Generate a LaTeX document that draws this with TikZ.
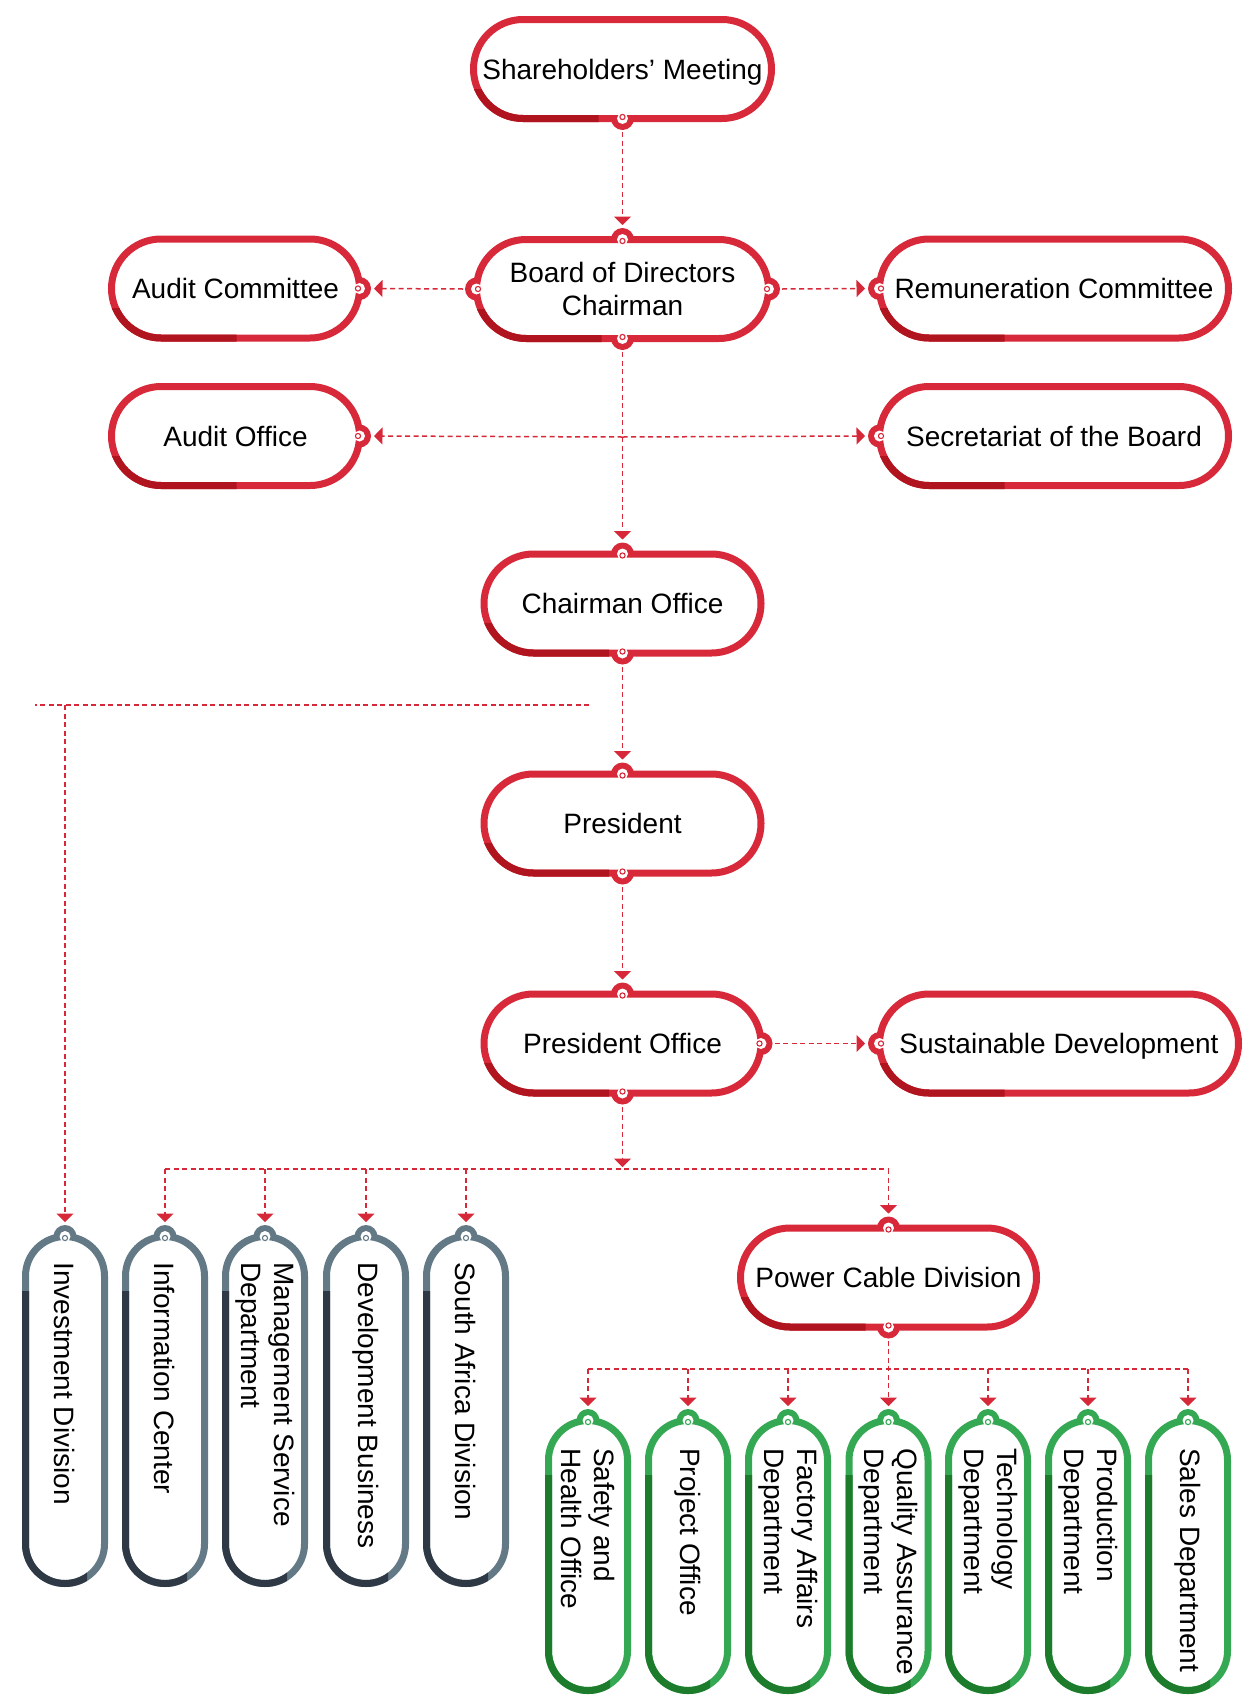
\documentclass[tikz,border=0pt]{standalone}
\usepackage{fontspec}
\setmainfont{Liberation Sans}
\usetikzlibrary{arrows.meta,calc}
\pgfdeclarelayer{background}
\pgfsetlayers{background,main}
\definecolor{rlight}{RGB}{215,41,58}
\definecolor{rdark}{RGB}{176,20,30}
\definecolor{glight}{RGB}{99,121,134}
\definecolor{gdark}{RGB}{46,57,69}
\definecolor{nlight}{RGB}{53,168,84}
\definecolor{ndark}{RGB}{29,123,44}
\definecolor{lnred}{RGB}{214,40,56}

\tikzset{
  lab/.style={font=\fontsize{28pt}{33pt}\selectfont, text=black},
  rbox/.style={draw=rlight, line width=7pt, fill=white, rounded corners=49.5pt, minimum height=99pt, inner sep=0pt, align=center, text depth=0pt, lab},
  vshape/.style={line width=7pt, fill=white, rounded corners=39.5pt, minimum width=79pt, inner sep=0pt},
  graybox/.style={vshape, draw=glight, minimum height=347pt},
  greenbox/.style={vshape, draw=nlight, minimum height=270pt},
  vtext/.style={lab, rotate=-90, anchor=west, align=left, inner sep=0pt},
  conn/.style={draw=lnred, line width=1.5pt, dash pattern=on 5pt off 3.5pt},
  arr/.style={conn, -{Triangle[width=17pt,length=8.5pt]}},
}

% bump (connection tab) on a box border
\newcommand{\bump}[3]{%
  \begin{scope}[shift={(#1)}, rotate=#2, xshift=-3.5pt]
    \begin{pgfonlayer}{background}
      \fill[#3] (0pt,0pt) circle (11.5pt);
    \end{pgfonlayer}
    \fill[white] (0pt,0pt) circle (5.5pt);
    \draw[#3, line width=1.1pt] (-1.5pt,0pt) circle (2.6pt);
  \end{scope}}

% red horizontal box: name, cx, cy, w, text
\newcommand{\mkR}[5]{%
  \node[rbox, minimum width=#4pt] (#1) at (#2,#3) {#5};
  \begin{scope}
    \clip ({#2-#4/2-8},{#3+20}) rectangle ({#2-#4/2+125},{#3+60});
    \draw[rdark, line width=7pt, rounded corners=49.5pt] ({#2-#4/2},{#3-49.5}) rectangle ({#2+#4/2},{#3+49.5});
  \end{scope}}

% vertical box: name, style, cx, cy, h, dark colour, light colour
\newcommand{\mkV}[7]{%
  \node[#2] (#1) at (#3,#4) {};
  \begin{scope}
    \clip ({#3-50},{#4-#5/2+55}) rectangle ({#3+22},{#4+#5/2+10});
    \draw[#6, line width=7pt, rounded corners=39.5pt] ({#3-39.5},{#4-#5/2}) rectangle ({#3+39.5},{#4+#5/2});
  \end{scope}
  \bump{#1.north}{90}{#7}}

\begin{document}
\begin{tikzpicture}[x=1pt,y=-1pt]
\begin{pgfonlayer}{background}
  \fill[white] (0,0) rectangle (1250,1700);
\end{pgfonlayer}
\useasboundingbox (0,0) rectangle (1250,1700);

% ---- red boxes ----
\mkR{sh}{622.5}{69}{298}{Shareholders’ Meeting}
\mkR{bd}{622.5}{289}{292}{Board of Directors\\Chairman}
\mkR{ac}{235.5}{288.5}{248}{Audit Committee}
\mkR{ao}{235.5}{436}{248}{Audit Office}
\mkR{rc}{1054}{288.5}{349}{Remuneration Committee}
\mkR{sb}{1054}{436}{349}{Secretariat of the Board}
\mkR{co}{622.5}{603.5}{277}{Chairman Office}
\mkR{pr}{622.5}{823.5}{277}{President}
\mkR{po}{622.5}{1043.5}{277}{President Office}
\mkR{sd}{1059}{1043.5}{359}{Sustainable Development}
\mkR{pc}{888.5}{1277.5}{296}{Power Cable Division}

\bump{sh.south}{-90}{rlight}
\bump{bd.north}{90}{rlight}
\bump{bd.south}{-90}{rlight}
\bump{bd.west}{180}{rlight}
\bump{bd.east}{0}{rlight}
\bump{ac.east}{0}{rlight}
\bump{ao.east}{0}{rlight}
\bump{rc.west}{180}{rlight}
\bump{sb.west}{180}{rlight}
\bump{co.north}{90}{rlight}
\bump{co.south}{-90}{rlight}
\bump{pr.north}{90}{rlight}
\bump{pr.south}{-90}{rlight}
\bump{po.north}{90}{rlight}
\bump{po.south}{-90}{rlight}
\bump{po.east}{0}{rlight}
\bump{sd.west}{180}{rlight}
\bump{pc.north}{90}{rlight}
\bump{pc.south}{-90}{rlight}

% ---- gray vertical boxes ----
\mkV{inv}{graybox}{65}{1410}{347}{gdark}{glight}
\mkV{inf}{graybox}{165}{1410}{347}{gdark}{glight}
\mkV{msd}{graybox}{265}{1410}{347}{gdark}{glight}
\mkV{dev}{graybox}{366}{1410}{347}{gdark}{glight}
\mkV{sad}{graybox}{466}{1410}{347}{gdark}{glight}
\node[vtext] (inv-t) at (65,1262) {Investment Division};
\node[vtext] (inf-t) at (165,1262) {Information Center};
\node[vtext] (msd-t) at (265,1262) {Management Service\\Department};
\node[vtext] (dev-t) at (366,1262) {Development Business};
\node[vtext] (sad-t) at (466,1262) {South Africa Division};

% ---- green vertical boxes ----
\mkV{she}{greenbox}{588}{1555.5}{270}{ndark}{nlight}
\mkV{pjo}{greenbox}{688}{1555.5}{270}{ndark}{nlight}
\mkV{fad}{greenbox}{788}{1555.5}{270}{ndark}{nlight}
\mkV{qad}{greenbox}{888.5}{1555.5}{270}{ndark}{nlight}
\mkV{tec}{greenbox}{988}{1555.5}{270}{ndark}{nlight}
\mkV{prd}{greenbox}{1088}{1555.5}{270}{ndark}{nlight}
\mkV{sal}{greenbox}{1188}{1555.5}{270}{ndark}{nlight}
\node[vtext] (she-t) at (588,1448) {Safety and\\Health Office};
\node[vtext] (pjo-t) at (688,1448) {Project Office};
\node[vtext] (fad-t) at (788,1448) {Factory Affairs\\Department};
\node[vtext] (qad-t) at (888.5,1448) {Quality Assurance\\Department};
\node[vtext] (tec-t) at (988,1448) {Technology\\Department};
\node[vtext] (prd-t) at (1088,1448) {Production\\Department};
\node[vtext] (sal-t) at (1188,1448) {Sales Department};

% ---- connectors ----
\draw[arr] ([yshift=-10pt]sh.south) -- ([yshift=11pt]bd.north);
\draw[arr] ([xshift=-10pt]bd.west) -- ([xshift=11pt]ac.east);
\draw[arr] ([xshift=10pt]bd.east) -- ([xshift=-11pt]rc.west);
\draw[arr] ([yshift=-10pt]bd.south) -- ([yshift=11pt]co.north);
\coordinate (j1) at (622.5,437);
\draw[arr] (j1) -- ([xshift=11pt]ao.east);
\draw[arr] (j1) -- ([xshift=-11pt]sb.west);
\draw[arr] ([yshift=-10pt]co.south) -- ([yshift=11pt]pr.north);
\coordinate (hA) at (589,705);
\coordinate (hB) at (35,705);
\coordinate (hC) at (65,705);
\draw[conn] (hA) -- (hB);
\draw[arr] (hC) -- ([yshift=11pt]inv.north);
\draw[arr] ([yshift=-10pt]pr.south) -- ([yshift=11pt]po.north);
\draw[arr] ([xshift=10pt]po.east) -- ([xshift=-11pt]sd.west);
\coordinate (pbus) at (622.5,1167);
\draw[arr] ([yshift=-10pt]po.south) -- (pbus);
\coordinate (bL) at (165,1169);
\coordinate (bR) at (888.5,1169);
\draw[conn] (bL) -- (bR);
\draw[arr] (bL) -- ([yshift=11pt]inf.north);
\draw[arr] (msd.north |- bL) -- ([yshift=11pt]msd.north);
\draw[arr] (dev.north |- bL) -- ([yshift=11pt]dev.north);
\draw[arr] (sad.north |- bL) -- ([yshift=11pt]sad.north);
\draw[arr] (bR) -- ([yshift=11pt]pc.north);
\coordinate (gL) at (588,1369);
\coordinate (gR) at (1188,1369);
\draw[conn] (gL) -- (gR);
\draw[arr] ([yshift=-10pt]pc.south) -- ([yshift=11pt]qad.north);
\draw[arr] (gL) -- ([yshift=11pt]she.north);
\draw[arr] (pjo.north |- gL) -- ([yshift=11pt]pjo.north);
\draw[arr] (fad.north |- gL) -- ([yshift=11pt]fad.north);
\draw[arr] (tec.north |- gL) -- ([yshift=11pt]tec.north);
\draw[arr] (prd.north |- gL) -- ([yshift=11pt]prd.north);
\draw[arr] (gR) -- ([yshift=11pt]sal.north);
\end{tikzpicture}
\end{document}
